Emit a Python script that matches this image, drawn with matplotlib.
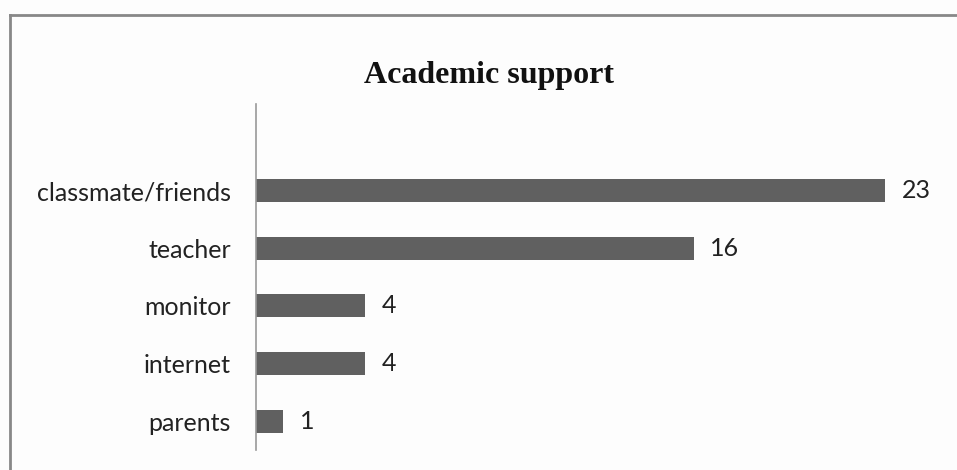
import matplotlib.pyplot as plt
from matplotlib.lines import Line2D

categories = ["parents", "internet", "monitor", "teacher", "classmate/friends"]
counts = [1, 4, 4, 16, 23]

W, H = 957, 470
fig = plt.figure(figsize=(W / 100, H / 100), dpi=100)
fig.patch.set_facecolor("#fdfdfd")

# outer chart border (left and top only visible)
fig.add_artist(Line2D([9.5 / W, 9.5 / W], [0, 1 - 14.5 / H], transform=fig.transFigure,
                      color="#888888", lw=2))
fig.add_artist(Line2D([9.5 / W, 1], [1 - 14.5 / H, 1 - 14.5 / H], transform=fig.transFigure,
                      color="#888888", lw=2))

ax = fig.add_axes([256 / W, 20 / H, 684 / W, 346 / H])
ax.set_facecolor("none")
pos = list(range(len(categories)))
ax.barh(pos, counts, height=0.4, color="#606060")
ax.set_xlim(0, 25)
ax.set_ylim(-0.5, 5.5)
ax.set_yticks(pos)
ax.set_yticklabels(categories, fontsize=18, family="Lato", color="#222222")
ax.tick_params(axis="y", length=0, pad=18)
ax.set_xticks([])
for s in ["top", "right", "bottom"]:
    ax.spines[s].set_visible(False)
ax.spines["left"].set_color("#999999")
ax.spines["left"].set_linewidth(1.2)

for y, v in zip(pos, counts):
    ax.annotate(str(v), (v, y), xytext=(12, 0), textcoords="offset points",
                va="center", ha="left", fontsize=18, family="Lato", color="#222222")

fig.text(489 / W, 1 - 75 / H, "Academic support", ha="center", va="center",
         fontsize=23, fontweight="bold", family="Liberation Serif", color="#111111")

fig.savefig("out.png", dpi=100, facecolor=fig.get_facecolor())
